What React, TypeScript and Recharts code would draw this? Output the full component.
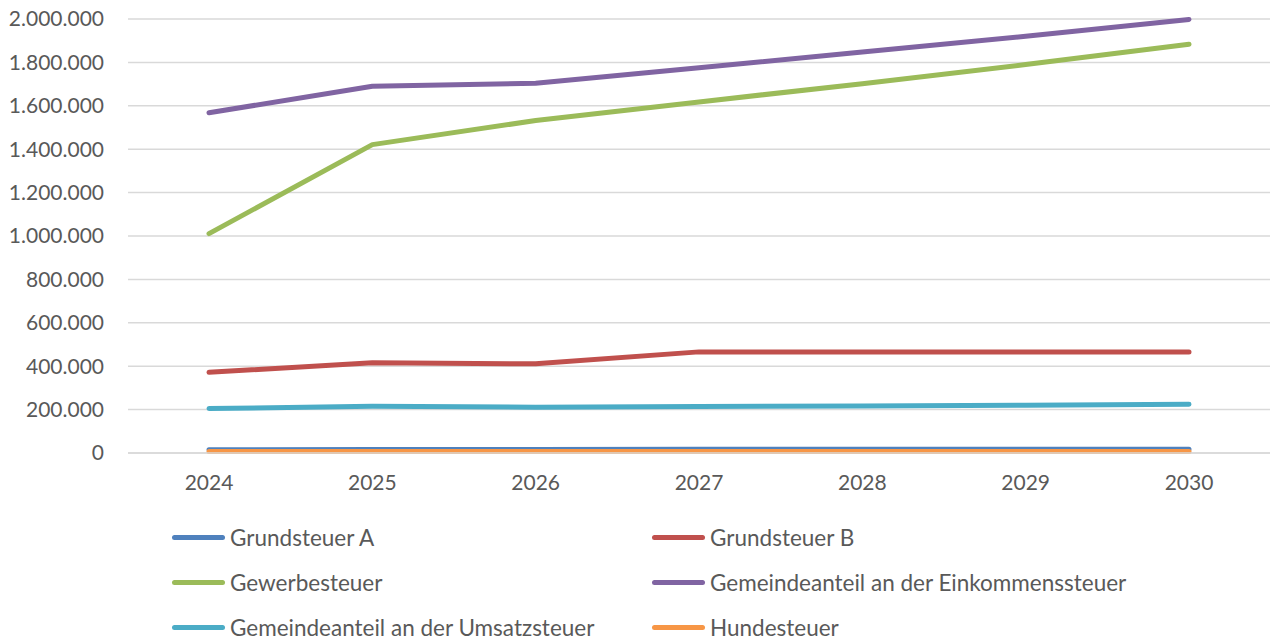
import { LineChart, Line, XAxis, YAxis, CartesianGrid, Legend } from 'recharts';

const years = ['2024', '2025', '2026', '2027', '2028', '2029', '2030'];
const grundsteuerA = [15000, 16000, 16000, 17000, 17000, 17000, 17000];
const grundsteuerB = [372000, 416000, 411000, 466000, 466000, 466000, 466000];
const gewerbesteuer = [1011000, 1421000, 1532000, 1618000, 1702000, 1790000, 1884000];
const einkommensteuer = [1568000, 1690000, 1704000, 1775000, 1848000, 1920000, 1998000];
const umsatzsteuer = [205000, 215000, 211000, 214000, 217000, 220000, 225000];
const hundesteuer = [7000, 7000, 7000, 7000, 7000, 7000, 7000];
const yTicks = [0, 200000, 400000, 600000, 800000, 1000000, 1200000, 1400000, 1600000, 1800000, 2000000];

const series = [
  { key: 'a', name: 'Grundsteuer A', color: '#4F81BD', values: grundsteuerA },
  { key: 'b', name: 'Grundsteuer B', color: '#C0504D', values: grundsteuerB },
  { key: 'g', name: 'Gewerbesteuer', color: '#9BBB59', values: gewerbesteuer },
  { key: 'e', name: 'Gemeindeanteil an der Einkommenssteuer', color: '#8064A2', values: einkommensteuer },
  { key: 'u', name: 'Gemeindeanteil an der Umsatzsteuer', color: '#4BACC6', values: umsatzsteuer },
  { key: 'h', name: 'Hundesteuer', color: '#F79646', values: hundesteuer },
];

const data = years.map((y, i) => {
  const row: any = { year: y };
  series.forEach(s => { row[s.key] = s.values[i]; });
  return row;
});

const FONT = 'Lato, "Open Sans", sans-serif';
const TEXT = '#595959';

const fmt = (v: number) => v.toLocaleString('de-DE');

function LegendBox() {
  return (
    <div style={{ position: 'relative', width: 1270, height: 124, fontFamily: FONT, fontSize: 22.5, color: TEXT }}>
      {series.map((s, i) => {
        const col = i % 2, row = Math.floor(i / 2);
        const left = col === 0 ? 172 : 652;
        const top = row * 45;
        return (
          <div key={s.key} style={{ position: 'absolute', left, top, height: 24, display: 'flex', alignItems: 'center', whiteSpace: 'nowrap' }}>
            <span style={{ display: 'inline-block', width: 53, height: 5, borderRadius: 3, background: s.color, marginRight: 5 }} />
            <span>{s.name}</span>
          </div>
        );
      })}
    </div>
  );
}

export default function App() {
  return (
    <div style={{ position: 'absolute', left: 0, top: 0, width: 1270, height: 639, background: '#fff' }}>
      <LineChart width={1270} height={639} data={data} margin={{ top: 19, right: 0, bottom: 0, left: 0 }}>
        <CartesianGrid vertical={false} stroke="#D9D9D9" strokeWidth={1.5} />
        <XAxis dataKey="year" axisLine={{ stroke: '#D9D9D9', strokeWidth: 1.5 }} tickLine={false} tickSize={0} tickMargin={22}
          height={62} padding={{ left: 81, right: 81 }} interval={0}
          tick={{ fill: TEXT, fontSize: 21, fontFamily: FONT }} />
        <YAxis domain={[0, 2000000]} ticks={yTicks} tickFormatter={fmt} width={128} axisLine={false} tickLine={false}
          tickSize={0} tickMargin={24} interval={0} tick={{ fill: TEXT, fontSize: 21, fontFamily: FONT }} />
        <Legend verticalAlign="bottom" align="left" content={() => <LegendBox />}
          wrapperStyle={{ position: 'absolute', left: 0, top: 525, width: 1270, height: 124 }} />
        {series.map(s => (
          <Line key={s.key} type="linear" dataKey={s.key} name={s.name} stroke={s.color} strokeWidth={5}
            strokeLinecap="round" strokeLinejoin="round" dot={false} activeDot={false} isAnimationActive={false} />
        ))}
      </LineChart>
    </div>
  );
}
